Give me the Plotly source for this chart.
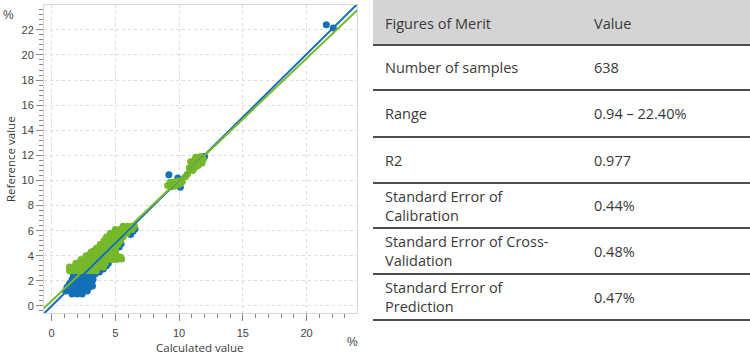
import plotly.graph_objects as go

W, H = 750, 364

# ---------------- data ----------------
# Calibration set (blue)
calib_x = [1.6, 2.0, 2.4,
           1.1, 1.45, 1.8, 2.15, 2.5, 2.8,
           1.2, 1.55, 1.9, 2.25, 2.6, 2.95, 3.2,
           1.4, 1.75, 2.1, 2.45, 2.8, 3.15,
           1.6, 1.95, 2.3, 2.65, 3.0, 3.25,
           1.7, 2.05, 2.4, 2.75, 3.1,
           3.4, 3.75, 4.05, 4.3, 4.45,
           3.0, 3.3, 2.8,
           5.3, 5.45, 6.2, 6.4, 6.55,
           9.2, 10.1, 9.9, 11.1, 12.0,
           21.55, 22.1]
calib_y = [0.95, 0.95, 0.95,
           1.2, 1.2, 1.2, 1.2, 1.2, 1.2,
           1.5, 1.5, 1.5, 1.5, 1.5, 1.5, 1.6,
           1.8, 1.8, 1.8, 1.8, 1.8, 1.8,
           2.1, 2.1, 2.1, 2.1, 2.1, 2.1,
           2.4, 2.4, 2.4, 2.4, 2.4,
           2.55, 2.7, 2.95, 3.2, 3.4,
           4.1, 4.35, 3.9,
           4.7, 4.95, 5.7, 5.95, 6.15,
           10.45, 9.45, 10.2, 10.85, 11.9,
           22.4, 22.15]

# Validation set (green)
valid_x = [1.4, 1.75, 2.1, 2.45, 2.8, 3.15, 3.5,
           1.4, 1.75, 2.1, 2.45, 2.8, 3.15, 3.5, 3.8, 4.05,
           1.9, 2.25, 2.6, 2.95, 3.3, 3.65, 4.0, 4.2,
           2.3, 2.65, 3.0, 3.35, 3.7, 4.05, 4.4, 4.75, 5.1, 5.5,
           2.7, 3.05, 3.4, 3.75, 4.1, 4.45, 4.8, 5.1, 5.4,
           3.1, 3.45, 3.8, 4.15, 4.5, 4.8, 5.0,
           3.5, 3.85, 4.2, 4.55, 4.85, 5.0,
           3.8, 4.15, 4.5, 4.85, 5.2,
           4.1, 4.45, 4.8, 5.15, 5.4,
           4.3, 4.65, 5.0, 5.35, 5.6,
           4.6, 4.95, 5.3, 5.65, 5.9,
           5.0, 5.35, 5.7, 6.05, 6.3,
           5.6, 5.95, 6.3, 6.5,
           9.1, 9.4, 9.7, 10.0, 10.25, 9.3, 9.6, 9.9, 10.5, 10.65,
           10.8, 11.0, 11.2, 11.45, 11.7, 11.9, 11.6, 11.3, 11.05, 11.5, 11.8, 10.9, 11.3]
valid_y = [2.8, 2.8, 2.8, 2.8, 2.8, 2.8, 2.8,
           3.1, 3.1, 3.1, 3.1, 3.1, 3.1, 3.1, 3.1, 3.1,
           3.4, 3.4, 3.4, 3.4, 3.4, 3.4, 3.4, 3.4,
           3.7, 3.7, 3.7, 3.7, 3.7, 3.7, 3.7, 3.7, 3.7, 3.75,
           4.0, 4.0, 4.0, 4.0, 4.0, 4.0, 4.0, 4.0, 3.9,
           4.3, 4.3, 4.3, 4.3, 4.3, 4.3, 4.3,
           4.6, 4.6, 4.6, 4.6, 4.6, 4.6,
           4.9, 4.9, 4.9, 4.9, 4.9,
           5.2, 5.2, 5.2, 5.2, 5.2,
           5.5, 5.5, 5.5, 5.5, 5.5,
           5.8, 5.8, 5.8, 5.8, 5.8,
           6.1, 6.1, 6.1, 6.1, 6.1,
           6.35, 6.35, 6.35, 6.35,
           9.6, 9.5, 9.55, 9.7, 9.9, 9.85, 9.85, 9.95, 10.3, 10.5,
           11.0, 11.3, 11.6, 11.8, 11.9, 11.7, 11.45, 11.1, 10.8, 11.2, 11.4, 11.5, 11.85]

# Regression lines (slope, intercept)
calib_fit = (1.003, 0.0)
valid_fit = (0.966, 0.40)

x_ticks = [0, 5, 10, 15, 20]
y_ticks = [0, 2, 4, 6, 8, 10, 12, 14, 16, 18, 20, 22]

table_header = ["Figures of Merit", "Value"]
table_labels = ["Number of samples", "Range", "R2",
                "Standard Error of<br>Calibration",
                "Standard Error of Cross-<br>Validation",
                "Standard Error of<br>Prediction"]
table_values = ["638", "0.94 \u2013 22.40%", "0.977", "0.44%", "0.48%", "0.47%"]

# ---------------- styling ----------------
BLUE = "#1470b8"
GREEN = "#76b82a"
TXT = "#3a3a3a"

x_range = [-0.60, 23.96]
y_range = [-0.56, 23.98]

fig = go.Figure()
fig.add_trace(go.Scatter(x=calib_x, y=calib_y, mode="markers",
                         marker=dict(color=BLUE, size=7, line=dict(width=0)),
                         showlegend=False, hoverinfo="skip"))
fig.add_trace(go.Scatter(x=valid_x, y=valid_y, mode="markers",
                         marker=dict(color=GREEN, size=7, line=dict(width=0)),
                         showlegend=False, hoverinfo="skip"))

line_x = [x_range[0] - 1, x_range[1] + 1]
for (m, b), col in [(calib_fit, BLUE), (valid_fit, GREEN)]:
    fig.add_trace(go.Scatter(x=line_x, y=[m * v + b for v in line_x], mode="lines",
                             line=dict(color=col, width=2),
                             showlegend=False, hoverinfo="skip"))


def px(x):
    return x / W


def py(y):
    return 1 - y / H


axis_common = dict(showline=True, linecolor="#d8d8d8", linewidth=1, mirror=True,
                   showgrid=True, gridcolor="#dcdcdc", griddash="dot", gridwidth=1,
                   zeroline=False, ticks="outside", ticklen=7, tickcolor="#8a8a8a",
                   tickwidth=1,
                   tickfont=dict(family="Liberation Sans, Arial", size=11, color="#444"))

fig.update_layout(
    width=W, height=H, margin=dict(l=0, r=0, t=0, b=0),
    paper_bgcolor="white", plot_bgcolor="white",
    xaxis=dict(domain=[px(44), px(357)], range=x_range, tickvals=x_ticks,
               minor=dict(dtick=1, tick0=0, ticks="outside", ticklen=4,
                          tickcolor="#8a8a8a", showgrid=False),
               ticklabelstandoff=3, **axis_common),
    yaxis=dict(domain=[py(313), py(5)], range=y_range, tickvals=y_ticks,
               minor=dict(dtick=0.4, tick0=0, ticks="outside", ticklen=4,
                          tickcolor="#8a8a8a", showgrid=False),
               **axis_common),
)

ann = []
P = dict(xref="paper", yref="paper", showarrow=False)
afont = dict(family="Open Sans", size=11.5, color=TXT)
ann.append(dict(x=px(200), y=py(347), text="Calculated value",
                xanchor="center", yanchor="middle", font=afont, **P))
ann.append(dict(x=px(352), y=py(342), text="%",
                xanchor="center", yanchor="middle",
                font=dict(family="Liberation Sans", size=12, color="#444"), **P))
ann.append(dict(x=px(10), y=py(159), text="Reference value", textangle=-90,
                xanchor="center", yanchor="middle", font=afont, **P))
ann.append(dict(x=px(8), y=py(15), text="%",
                xanchor="center", yanchor="middle",
                font=dict(family="Liberation Sans", size=12, color="#444"), **P))

# ---------------- table ----------------
shapes = []
tx0 = 373
shapes.append(dict(type="rect", xref="paper", yref="paper", x0=px(tx0), x1=1,
                   y0=py(44), y1=1, fillcolor="#d4d4d4", line=dict(width=0), layer="below"))
line_ys = [45, 90, 137, 183, 228, 274, 320]
for ly in line_ys:
    shapes.append(dict(type="line", xref="paper", yref="paper", x0=px(tx0), x1=1,
                       y0=py(ly), y1=py(ly), line=dict(color="#4d4d4d", width=2)))

tfont = dict(family="Open Sans", size=14.5, color=TXT)
col1, col2 = 383, 592
row_centers = [23] + [(line_ys[i] + line_ys[i + 1]) / 2 for i in range(len(line_ys) - 1)]
ann.append(dict(x=px(col1), y=py(row_centers[0]), text=table_header[0],
                xanchor="left", yanchor="middle", align="left", font=tfont, **P))
ann.append(dict(x=px(col2), y=py(row_centers[0]), text=table_header[1],
                xanchor="left", yanchor="middle", align="left", font=tfont, **P))
for i, (lab, val) in enumerate(zip(table_labels, table_values)):
    yc = row_centers[i + 1]
    ann.append(dict(x=px(col1), y=py(yc), text=lab,
                    xanchor="left", yanchor="middle", align="left", font=tfont, **P))
    ann.append(dict(x=px(col2), y=py(yc), text=val,
                    xanchor="left", yanchor="middle", align="left", font=tfont, **P))

fig.update_layout(annotations=ann, shapes=shapes)
fig.write_html("out.html", config={"displayModeBar": False},
               post_script="document.body.style.margin='0px';document.body.style.padding='0px';")
